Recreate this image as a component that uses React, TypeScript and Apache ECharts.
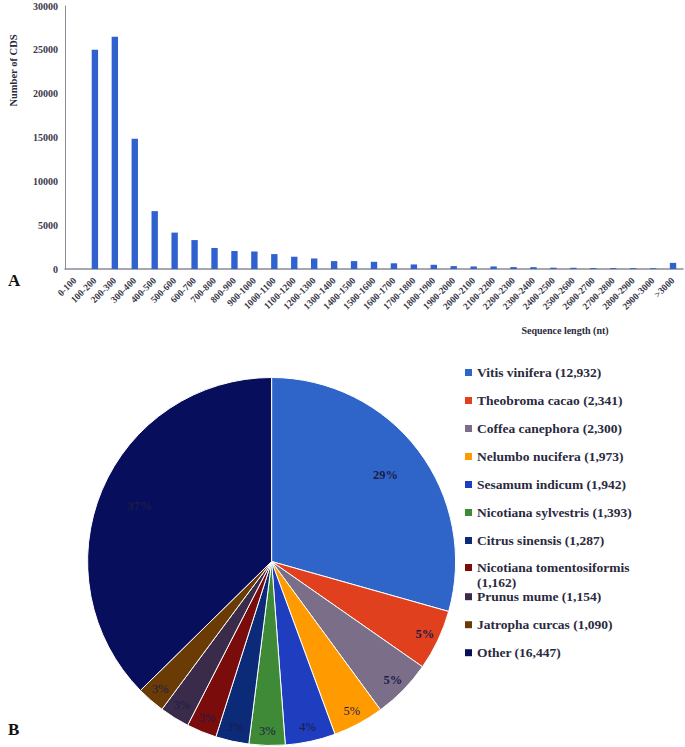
import React, { useEffect, useRef } from 'react';
import * as echarts from 'echarts';

// ---------- Data ----------
const lengthBins = [
  '0-100', '100-200', '200-300', '300-400', '400-500', '500-600', '600-700', '700-800',
  '800-900', '900-1000', '1000-1100', '1100-1200', '1200-1300', '1300-1400', '1400-1500',
  '1500-1600', '1600-1700', '1700-1800', '1800-1900', '1900-2000', '2000-2100', '2100-2200',
  '2200-2300', '2300-2400', '2400-2500', '2500-2600', '2600-2700', '2700-2800', '2800-2900',
  '2900-3000', '>3000',
];
const cdsCounts = [
  0, 25000, 26500, 14850, 6600, 4150, 3300, 2400,
  2050, 2000, 1700, 1400, 1200, 900, 900,
  820, 650, 520, 480, 330, 290, 290,
  220, 210, 150, 140, 110, 100, 100,
  90, 700,
];
const yTicks = { min: 0, max: 30000, interval: 5000 };

const species = [
  'Vitis vinifera', 'Theobroma cacao', 'Coffea canephora', 'Nelumbo nucifera',
  'Sesamum indicum', 'Nicotiana sylvestris', 'Citrus sinensis', 'Nicotiana tomentosiformis',
  'Prunus mume', 'Jatropha curcas', 'Other',
];
const speciesCounts = [12932, 2341, 2300, 1973, 1942, 1393, 1287, 1162, 1154, 1090, 16447];

// ---------- Styles ----------
const sliceColors = [
  '#2F64C9', '#E0401E', '#7A6E88', '#FF9A00', '#1E3DBF', '#3E8A36',
  '#0B2A78', '#7B0C0C', '#3B2B4A', '#6A3B05', '#070E5C',
];
const SERIF = "'Liberation Serif', 'Times New Roman', serif";
const TEXT = '#2a2a40';
const AXIS = '#8a8a98';

export default function App() {
  const ref = useRef<HTMLDivElement>(null);

  useEffect(() => {
    if (!ref.current) return;
    const chart = echarts.init(ref.current, null, { renderer: 'svg' });

    const total = speciesCounts.reduce((a, b) => a + b, 0);
    const pieCenter = [271.6, 561.5];
    const R = 184;

    const baseData = species.map((name, i) => ({ name, value: speciesCounts[i] }));

    const overlayData = (big: boolean) =>
      species.map((name, i) => {
        const share = speciesCounts[i] / total;
        const isBig = share > 0.2;
        return {
          name,
          value: speciesCounts[i],
          label: {
            show: big ? isBig : !isBig,
            fontWeight: share >= 0.045 ? 'bold' : 'normal',
          },
        };
      });

    const overlaySeries = (big: boolean) => ({
      type: 'pie',
      center: pieCenter,
      radius: big ? [R * 0.52, R] : [R * 0.81, R],
      startAngle: 90,
      clockwise: true,
      percentPrecision: 0,
      silent: true,
      itemStyle: { color: 'rgba(0,0,0,0)', borderWidth: 0 },
      emphasis: { disabled: true },
      labelLine: { show: false },
      label: {
        position: 'inside',
        formatter: '{d}%',
        fontFamily: SERIF,
        fontSize: 12.5,
        color: '#1c1c48',
      },
      data: overlayData(big),
    });

    const fmt = (name: string) =>
      `${name} (${speciesCounts[species.indexOf(name)].toLocaleString('en-US')})`;

    const legendCommon = {
      orient: 'vertical',
      left: 465,
      padding: 0,
      itemWidth: 7,
      itemHeight: 7,
      itemGap: 14,
      icon: 'rect',
      selectedMode: false,
      itemStyle: { borderWidth: 0 },
      textStyle: {
        fontFamily: SERIF,
        fontWeight: 'bold',
        fontSize: 13.5,
        lineHeight: 14,
        color: TEXT,
      },
    };

    chart.setOption({
      animation: false,
      backgroundColor: '#ffffff',
      color: sliceColors,
      grid: { left: 57, right: 2, top: 6, bottom: 478 },
      xAxis: {
        type: 'category',
        data: lengthBins,
        name: 'Sequence length (nt)',
        nameLocation: 'middle',
        nameGap: 56,
        nameTextStyle: {
          fontFamily: SERIF,
          fontWeight: 'bold',
          fontSize: 10,
          color: TEXT,
          padding: [0, 0, 0, 382],
        },
        axisLine: { lineStyle: { color: AXIS, width: 1.5 } },
        axisTick: { show: false },
        axisLabel: {
          interval: 0,
          rotate: 45,
          margin: 10,
          fontFamily: SERIF,
          fontWeight: 'bold',
          fontSize: 9.5,
          color: '#3a3a4a',
        },
      },
      yAxis: {
        type: 'value',
        min: yTicks.min,
        max: yTicks.max,
        interval: yTicks.interval,
        name: 'Number of CDS',
        nameLocation: 'middle',
        nameGap: 46,
        nameTextStyle: {
          fontFamily: SERIF,
          fontWeight: 'bold',
          fontSize: 10.5,
          color: TEXT,
          padding: [0, 0, 0, 134],
        },
        axisLine: { show: true, lineStyle: { color: AXIS, width: 1 } },
        axisTick: { show: false },
        splitLine: { show: false },
        axisLabel: {
          margin: 7,
          formatter: (v: number) => String(v),
          fontFamily: SERIF,
          fontWeight: 'bold',
          fontSize: 10,
          color: '#3a3a4a',
        },
      },
      legend: [
        { ...legendCommon, top: 365.5, data: species.slice(0, 7), formatter: fmt },
        {
          ...legendCommon,
          top: 545,
          data: species.slice(7, 8),
          formatter: (name: string) =>
            ` \n${name}\n(${speciesCounts[species.indexOf(name)].toLocaleString('en-US')})`,
          textStyle: { ...legendCommon.textStyle, lineHeight: 15 },
        },
        { ...legendCommon, top: 589.7, data: species.slice(8), formatter: fmt },
      ],
      graphic: [
        {
          type: 'text',
          left: 8,
          top: 272,
          style: { text: 'A', fontFamily: SERIF, fontWeight: 'bold', fontSize: 17, fill: '#111' },
        },
        {
          type: 'text',
          left: 8,
          top: 721,
          style: { text: 'B', fontFamily: SERIF, fontWeight: 'bold', fontSize: 17, fill: '#111' },
        },
      ],
      series: [
        {
          type: 'bar',
          name: 'CDS',
          data: cdsCounts,
          barWidth: '32%',
          itemStyle: { color: '#2F62CF' },
        },
        {
          type: 'pie',
          name: 'Species',
          center: pieCenter,
          radius: [0, R],
          startAngle: 90,
          clockwise: true,
          percentPrecision: 0,
          itemStyle: { borderColor: '#ffffff', borderWidth: 1 },
          label: { show: false },
          labelLine: { show: false },
          emphasis: { disabled: true },
          data: baseData.map((d, i) => ({ ...d, itemStyle: { color: sliceColors[i] } })),
        },
        overlaySeries(true),
        overlaySeries(false),
      ],
    });

    return () => chart.dispose();
  }, []);

  return (
    <div
      ref={ref}
      style={{ position: 'absolute', left: 0, top: 0, width: 685, height: 747 }}
    />
  );
}
